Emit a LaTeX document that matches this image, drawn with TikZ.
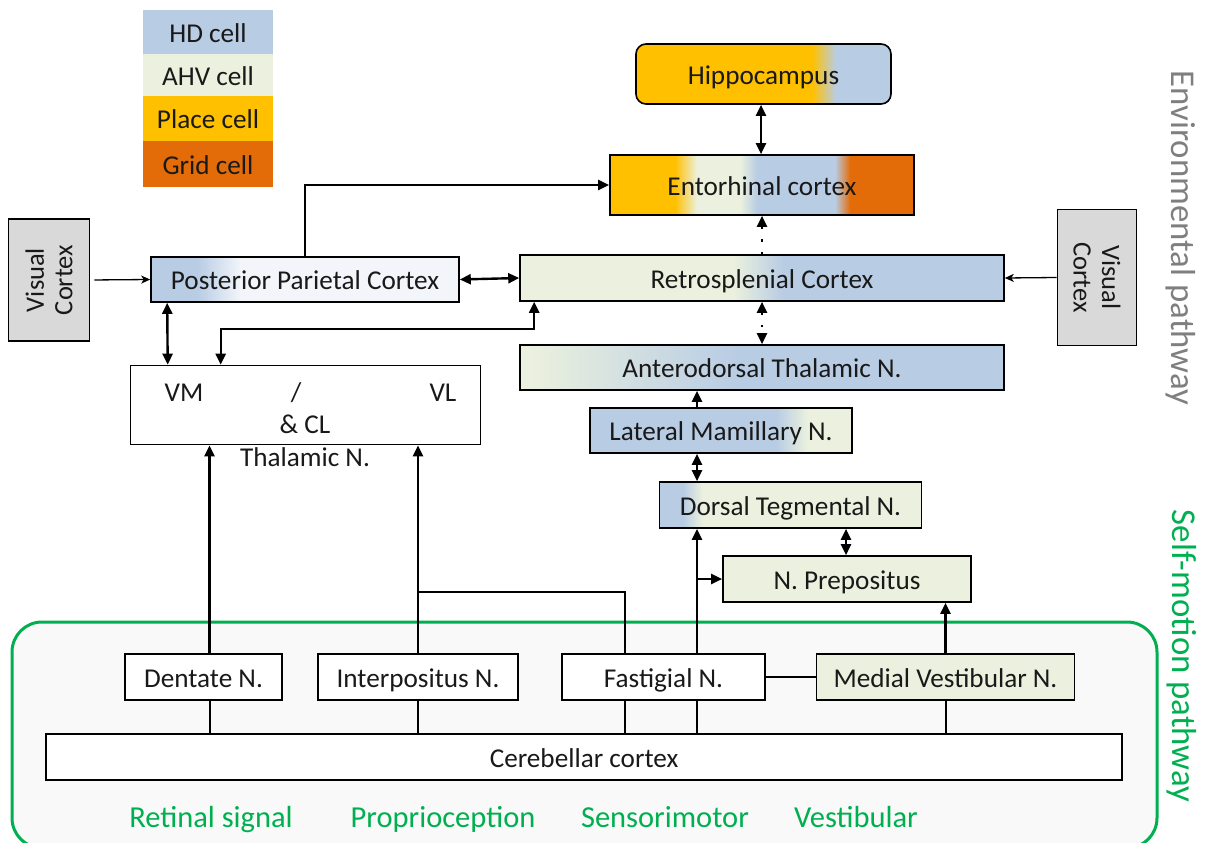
\documentclass[tikz,border=0pt]{standalone}
\usepackage{fontspec}
\setmainfont{Carlito}
\usetikzlibrary{arrows.meta,calc}
\definecolor{hd}{RGB}{184,204,228}
\definecolor{ahv}{RGB}{235,241,222}
\definecolor{place}{RGB}{255,192,0}
\definecolor{grid}{RGB}{227,108,9}
\definecolor{vgray}{RGB}{217,217,217}
\definecolor{sgreen}{RGB}{0,176,80}
\definecolor{ppclight}{RGB}{242,245,250}
\definecolor{framefill}{RGB}{249,249,249}
\definecolor{envgray}{RGB}{127,127,127}
\pgfdeclarehorizontalshading{hipshade}{100bp}{color(0bp)=(place); color(59.5bp)=(place); color(64.2bp)=(hd); color(100bp)=(hd)}
\pgfdeclarehorizontalshading{ecshade}{100bp}{color(0bp)=(place); color(35.7bp)=(place); color(39.3bp)=(ahv); color(46.4bp)=(ahv); color(49.2bp)=(hd); color(62bp)=(hd); color(64.5bp)=(grid); color(100bp)=(grid)}
\pgfdeclarehorizontalshading{rscshade}{100bp}{color(0bp)=(ahv); color(47bp)=(ahv); color(52.2bp)=(hd); color(100bp)=(hd)}
\pgfdeclarehorizontalshading{adnshade}{100bp}{color(0bp)=(ahv); color(26bp)=(ahv); color(47.5bp)=(hd); color(100bp)=(hd)}
\pgfdeclarehorizontalshading{lmnshade}{100bp}{color(0bp)=(hd); color(60.5bp)=(hd); color(66.5bp)=(ahv); color(100bp)=(ahv)}
\pgfdeclarehorizontalshading{dtnshade}{100bp}{color(0bp)=(hd); color(29.5bp)=(hd); color(33.2bp)=(ahv); color(100bp)=(ahv)}
\pgfdeclarehorizontalshading{ppcshade}{100bp}{color(0bp)=(hd); color(32.5bp)=(hd); color(39.5bp)=(ppclight); color(100bp)=(ppclight)}
\begin{document}
\begin{tikzpicture}[x=1pt,y=-1pt,
  every node/.style={font=\fontsize{27.2}{31}\selectfont, text=black!90, inner sep=0pt, text height=21pt, text depth=0.8pt},
  box/.style={draw=black, line width=1.6pt, fill=white},
  sz/.style 2 args={minimum width=#1pt, minimum height=#2pt},
  arr/.style={line width=2.4pt, -{Triangle[length=11pt,width=10pt]}},
  darr/.style={line width=2.4pt, {Triangle[length=11pt,width=10pt]}-{Triangle[length=11pt,width=10pt]}},
  thinarr/.style={line width=1.3pt, -{Stealth[length=9pt,width=8pt,inset=2.5pt]}},
  ln/.style={line width=2pt},
  dots/.style={dash pattern=on 2.5pt off 10pt},
  glab/.style={font=\fontsize{30.5}{35}\selectfont, text=sgreen, text height=22pt, text depth=1.8pt},
  plab/.style={font=\fontsize{34.8}{40}\selectfont, rotate=-90, text height=25pt, text depth=2pt},
  vtext/.style={align=center, font=\fontsize{26.5}{28.5}\selectfont, text height={}, text depth={}}
]
\useasboundingbox (0,0) rectangle (1205,843);
\clip (0,0) rectangle (1205,843);

% self-motion frame
\draw[sgreen, line width=3pt, fill=framefill, rounded corners=30pt] (12,622) rectangle (1157,848);

% legend
\node[fill=hd, sz={130}{44}] (lhd) at (208,32) {HD cell};
\node[fill=ahv, sz={130}{42}] (lahv) at (208,75) {AHV cell};
\node[fill=place, sz={130}{45}] (lplace) at (208,118.5) {Place cell};
\node[fill=grid, sz={130}{46}] (lgrid) at (208,164) {Grid cell};

% environmental pathway nodes
\node[box, rounded corners=10pt, shading=hipshade, shade, sz={255}{60}] (hip) at (763.5,74) {Hippocampus};
\node[box, shading=ecshade, shade, sz={304}{60}] (ec) at (762,185) {Entorhinal cortex};
\node[box, shading=rscshade, shade, sz={484}{46}] (rsc) at (762,278) {Retrosplenial Cortex};
\node[box, shading=adnshade, shade, sz={484}{45}] (adn) at (762,367.5) {Anterodorsal Thalamic N.};
\node[box, shading=lmnshade, shade, sz={262}{45}] (lmn) at (721,430.5) {Lateral Mamillary N.};
\node[box, shading=dtnshade, shade, sz={262}{46}] (dtn) at (790.5,505) {Dorsal Tegmental N.};
\node[box, fill=ahv, sz={248}{46}] (np) at (847,579) {N. Prepositus};
\node[box, shading=ppcshade, shade, sz={308}{45}] (ppc) at (305,279.5) {Posterior Parietal Cortex};
\node[box, fill=vgray, rotate=90, sz={122}{81}, vtext] (vcl) at (49,280) {Visual\\Cortex};
\node[box, fill=vgray, rotate=-90, sz={136}{79}, vtext] (vcr) at (1097,277.5) {Visual\\Cortex};
\node[box, sz={350}{79}] (vm) at (305.5,405) {};
\node (tvm) at (184,391) {VM};
\node (tsl) at (296,391) {/};
\node (tvl) at (443,391) {VL};
\node (tcl) at (305,423) {\& CL};
\node (tth) at (305,456) {Thalamic N.};

% cerebellar nodes
\node[box, sz={157}{46}] (dn) at (203.5,677) {Dentate N.};
\node[box, sz={200}{46}] (ipn) at (418,677) {Interpositus N.};
\node[box, sz={203}{46}] (fn) at (663.5,677) {Fastigial N.};
\node[box, fill=ahv, sz={258}{46}] (mvn) at (945.5,677) {Medial Vestibular N.};
\node[box, sz={1076}{46}] (cc) at (584,757) {Cerebellar cortex};

% labels
\node[glab] (l1) at (211,817) {Retinal signal};
\node[glab] (l2) at (443,817) {Proprioception};
\node[glab] (l3) at (665,817) {Sensorimotor};
\node[glab] (l4) at (856,817) {Vestibular};
\node[plab, text=envgray] (envlab) at (1183,238) {Environmental pathway};
\node[plab, text=sgreen] (smlab) at (1184,656) {Self-motion pathway};

% connectors
\draw[darr] (ec.north -| 761,0) -- (hip.south -| 761,0);
\draw[arr, dots] (rsc.north) -- (ec.south);
\draw[darr, dots] (rsc.south) -- (adn.north);
\draw[thinarr, shorten <=4pt] (vcl.south) -- (ppc.west);
\draw[thinarr] (vcr.south) -- (rsc.east);
\draw[darr] (ppc.east) -- (rsc.west);
\draw[arr] (ppc.north) |- (ec.west);
\draw[darr] ([xshift=17pt]ppc.south west) -- ([xshift=38pt]vm.north west);
\draw[darr] ([xshift=15pt]rsc.south west) -- ++(0,27) -| ([xshift=91pt]vm.north west);
\draw[arr] ([xshift=-24pt]lmn.north) -- ([xshift=-24pt]lmn.north |- adn.south);
\draw[darr] ([xshift=-24pt]lmn.south) -- ([xshift=-24pt]lmn.south |- dtn.north);
\draw[darr] ([xshift=-1pt]np.north) -- ([xshift=-1pt]np.north |- dtn.south);

% cerebellar connectors
\coordinate (j1) at (418,592);
\draw[ln] ([xshift=6pt]dn.south) -- ([xshift=6pt]dn.south |- cc.north);
\draw[arr] ([xshift=6pt]dn.north) -- ([xshift=6pt]dn.north |- vm.south);
\draw[ln] (ipn.south) -- (ipn.south |- cc.north);
\draw[arr] (ipn.north) -- (ipn.north |- vm.south);
\draw[ln] ([xshift=-38.5pt]fn.north) |- (j1);
\draw[ln] ([xshift=-38.5pt]fn.south) -- ([xshift=-38.5pt]fn.south |- cc.north);
\draw[ln] ([xshift=33.5pt]fn.south) -- ([xshift=33.5pt]fn.south |- cc.north);
\draw[arr] ([xshift=33.5pt]fn.north) -- ([xshift=33.5pt]fn.north |- dtn.south);
\coordinate (j2) at ([xshift=33.5pt]fn.north |- np.west);
\draw[arr] (j2) -- (np.west);
\draw[ln] (fn.east) -- (mvn.west);
\draw[ln] (mvn.south) -- (mvn.south |- cc.north);
\draw[arr] (mvn.north) -- (mvn.north |- np.south);
\end{tikzpicture}
\end{document}
